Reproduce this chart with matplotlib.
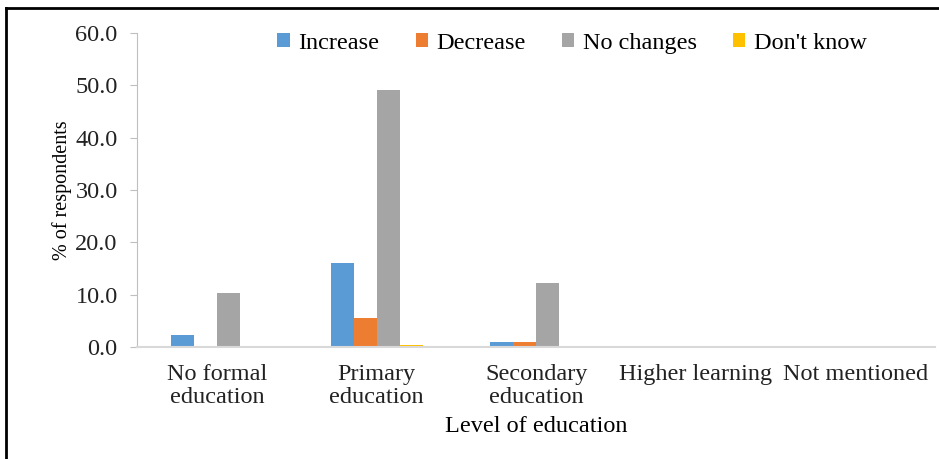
import matplotlib
matplotlib.use("Agg")
import matplotlib.pyplot as plt
import numpy as np
from matplotlib.lines import Line2D

# Data
categories = ["No formal\neducation", "Primary\neducation", "Secondary\neducation",
              "Higher learning", "Not mentioned"]
series_names = ["Increase", "Decrease", "No changes", "Don't know"]
increase = [2.3, 16.1, 1.0, 0.0, 0.2]
decrease = [0.0, 5.6, 1.0, 0.2, 0.0]
no_changes = [10.4, 49.2, 12.3, 0.2, 0.0]
dont_know = [0.0, 0.4, 0.0, 0.0, 0.0]
colors = ["#5B9BD5", "#ED7D31", "#A5A5A5", "#FFC000"]
yticks = [0, 10, 20, 30, 40, 50, 60]

plt.rcParams["font.family"] = ["Liberation Serif", "DejaVu Serif"]

fig = plt.figure(figsize=(9.39, 4.59), dpi=100)
ax = fig.add_axes([0.146, 0.244, 0.850, 0.684])

x = np.arange(len(categories))
w = 0.144
all_series = [increase, decrease, no_changes, dont_know]
for i, (vals, name, c) in enumerate(zip(all_series, series_names, colors)):
    ax.bar(x + (i - 1.5) * w, vals, width=w, color=c, label=name)

ax.set_xlim(-0.5, len(categories) - 0.5)
ax.set_ylim(0, 60)
ax.set_yticks(yticks)
ax.set_yticklabels([f"{v:.1f}" for v in yticks], fontsize=17.5, color="#222222")
ax.set_xticks(x)
ax.set_xticklabels(categories, fontsize=17.5, linespacing=1.15, color="#222222")
ax.tick_params(axis="x", length=0, pad=12)
ax.tick_params(axis="y", length=5, color="#bfbfbf", pad=9)

for s in ["top", "right"]:
    ax.spines[s].set_visible(False)
ax.spines["left"].set_color("#bfbfbf")
ax.spines["bottom"].set_color("#d9d9d9")
ax.spines["bottom"].set_linewidth(1.5)

ax.set_ylabel("% of respondents", fontsize=14.5, labelpad=2)
ax.set_xlabel("Level of education", fontsize=17.5, labelpad=6)

ax.legend(loc="upper center", bbox_to_anchor=(0.545, 1.07), ncol=4, frameon=False,
          fontsize=17.5, handlelength=0.5, handleheight=0.5, columnspacing=1.5,
          handletextpad=0.35)

# black frame on left and top edges
fig.add_artist(Line2D([0.006, 0.006], [0.0, 0.982], color="black", lw=2,
                      transform=fig.transFigure))
fig.add_artist(Line2D([0.006, 1.0], [0.982, 0.982], color="black", lw=2,
                      transform=fig.transFigure))

fig.savefig("out.png", dpi=100)
